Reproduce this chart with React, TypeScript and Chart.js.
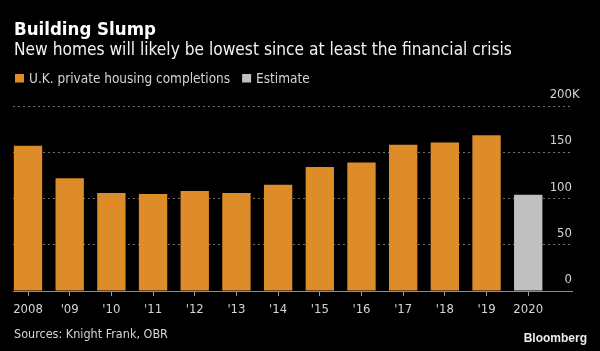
import React, { useEffect, useRef } from "react";
import { Chart, registerables } from "chart.js";

Chart.register(...registerables);

const years = [2008, 2009, 2010, 2011, 2012, 2013, 2014, 2015, 2016, 2017, 2018, 2019, 2020];
const tickLabels = ["2008", "'09", "'10", "'11", "'12", "'13", "'14", "'15", "'16", "'17", "'18", "'19", "2020"];
const completions = [157, 122, 106, 105, 108, 106, 115, 134, 139, 158, 160.5, 168.5, null];
const estimate = [null, null, null, null, null, null, null, null, null, null, null, null, 104];
const yTicks = [0, 50, 100, 150, 200];

const titleText = "Building Slump";
const subtitleText = "New homes will likely be lowest since at least the financial crisis";
const seriesNames = ["U.K. private housing completions", "Estimate"];
const sourceText = "Sources: Knight Frank, OBR";
const brandText = "Bloomberg";

const ORANGE = "#DE8B2A";
const GRAY = "#C0C0C0";
const FONT = '"DejaVu Sans Condensed", "Liberation Sans Narrow", "Noto Sans", sans-serif';

const toPoints = (vals: (number | null)[]) =>
  years.map((x, i) => ({ x, y: vals[i] })).filter((p) => p.y !== null);

const decorPlugin = {
  id: "decor",
  afterDraw(chart: any) {
    const { ctx, chartArea } = chart;
    ctx.save();
    ctx.textAlign = "left";
    ctx.textBaseline = "alphabetic";
    // Title
    ctx.fillStyle = "#ffffff";
    ctx.font = `bold 18.5px ${FONT}`;
    ctx.fillText(titleText, 14, 35);
    // Subtitle
    ctx.fillStyle = "#f2f2f2";
    ctx.font = `17.2px ${FONT}`;
    ctx.fillText(subtitleText, 14, 54.5);
    // Legend
    ctx.font = `13.5px ${FONT}`;
    let x = 15;
    const colors = [ORANGE, GRAY];
    seriesNames.forEach((name, i) => {
      ctx.fillStyle = colors[i];
      ctx.fillRect(x, 74, 9, 8.5);
      ctx.fillStyle = "#d4d4d4";
      ctx.fillText(name, x + 14, 82.5);
      x += 14 + ctx.measureText(name).width + 12;
    });
    // Y-axis labels
    const ys = chart.scales.y;
    ctx.font = `13px ${FONT}`;
    ctx.fillStyle = "#d4d4d4";
    ys.ticks.forEach((t: any) => {
      const py = ys.getPixelForValue(t.value);
      ctx.textAlign = "right";
      ctx.fillText(String(t.value), chartArea.right, py - 8);
      if (t.value === ys.max) {
        ctx.textAlign = "left";
        ctx.fillText("K", chartArea.right, py - 8);
      }
    });
    // Footer
    ctx.textAlign = "left";
    ctx.font = `12.5px ${FONT}`;
    ctx.fillStyle = "#d4d4d4";
    ctx.fillText(sourceText, 14, 338);
    ctx.textAlign = "right";
    ctx.font = `bold 12px "Liberation Sans", Arial, sans-serif`;
    ctx.fillStyle = "#ececec";
    ctx.fillText(brandText, 587, 341.5);
    ctx.restore();
  },
};

export default function App() {
  const ref = useRef<HTMLCanvasElement>(null);
  useEffect(() => {
    if (!ref.current) return;
    const chart = new Chart(ref.current, {
      type: "bar",
      data: {
        datasets: [
          {
            label: seriesNames[0],
            data: toPoints(completions) as any,
            backgroundColor: ORANGE,
            barPercentage: 0.68,
            categoryPercentage: 1,
            grouped: false,
          },
          {
            label: seriesNames[1],
            data: toPoints(estimate) as any,
            backgroundColor: GRAY,
            barPercentage: 0.68,
            categoryPercentage: 1,
            grouped: false,
          },
        ],
      },
      options: {
        animation: false,
        responsive: false,
        maintainAspectRatio: false,
        layout: { padding: { left: 13, right: 28, top: 106, bottom: 0 } },
        plugins: {
          legend: { display: false },
          title: { display: false },
          tooltip: { enabled: false },
        },
        scales: {
          x: {
            type: "linear",
            offset: false,
            min: 2007.64,
            max: 2021.05,
            afterBuildTicks: (scale: any) => {
              scale.ticks = years.map((v) => ({ value: v }));
            },
            afterFit: (scale: any) => {
              scale.height = 60;
            },
            ticks: {
              autoSkip: false,
              maxRotation: 0,
              padding: 6,
              color: "#d4d4d4",
              font: { family: FONT, size: 13 },
              callback: (v: any) => {
                const i = years.indexOf(Number(v));
                return i >= 0 ? tickLabels[i] : "";
              },
            },
            grid: {
              display: true,
              offset: false,
              drawOnChartArea: false,
              drawTicks: true,
              tickLength: 5,
              tickColor: "#9a9a9a",
              tickWidth: 1,
            },
            border: { display: true, color: "#8c8c8c", width: 1 },
          },
          y: {
            position: "right",
            min: 0,
            max: 200,
            afterBuildTicks: (scale: any) => {
              scale.ticks = yTicks.map((v) => ({ value: v }));
            },
            afterFit: (scale: any) => {
              scale.width = 0;
            },
            ticks: { display: false },
            grid: {
              drawTicks: false,
              color: (c: any) => (c.tick && c.tick.value === 0 ? "rgba(0,0,0,0)" : "#707070"),
              lineWidth: 1,
            },
            border: { display: false, dash: [2, 3] },
          },
        },
      },
      plugins: [decorPlugin],
    });
    return () => chart.destroy();
  }, []);
  return (
    <div style={{ position: "fixed", left: 0, top: 0, width: 600, height: 351, background: "#000" }}>
      <canvas ref={ref} width={600} height={351} style={{ width: 600, height: 351, display: "block" }} />
    </div>
  );
}
